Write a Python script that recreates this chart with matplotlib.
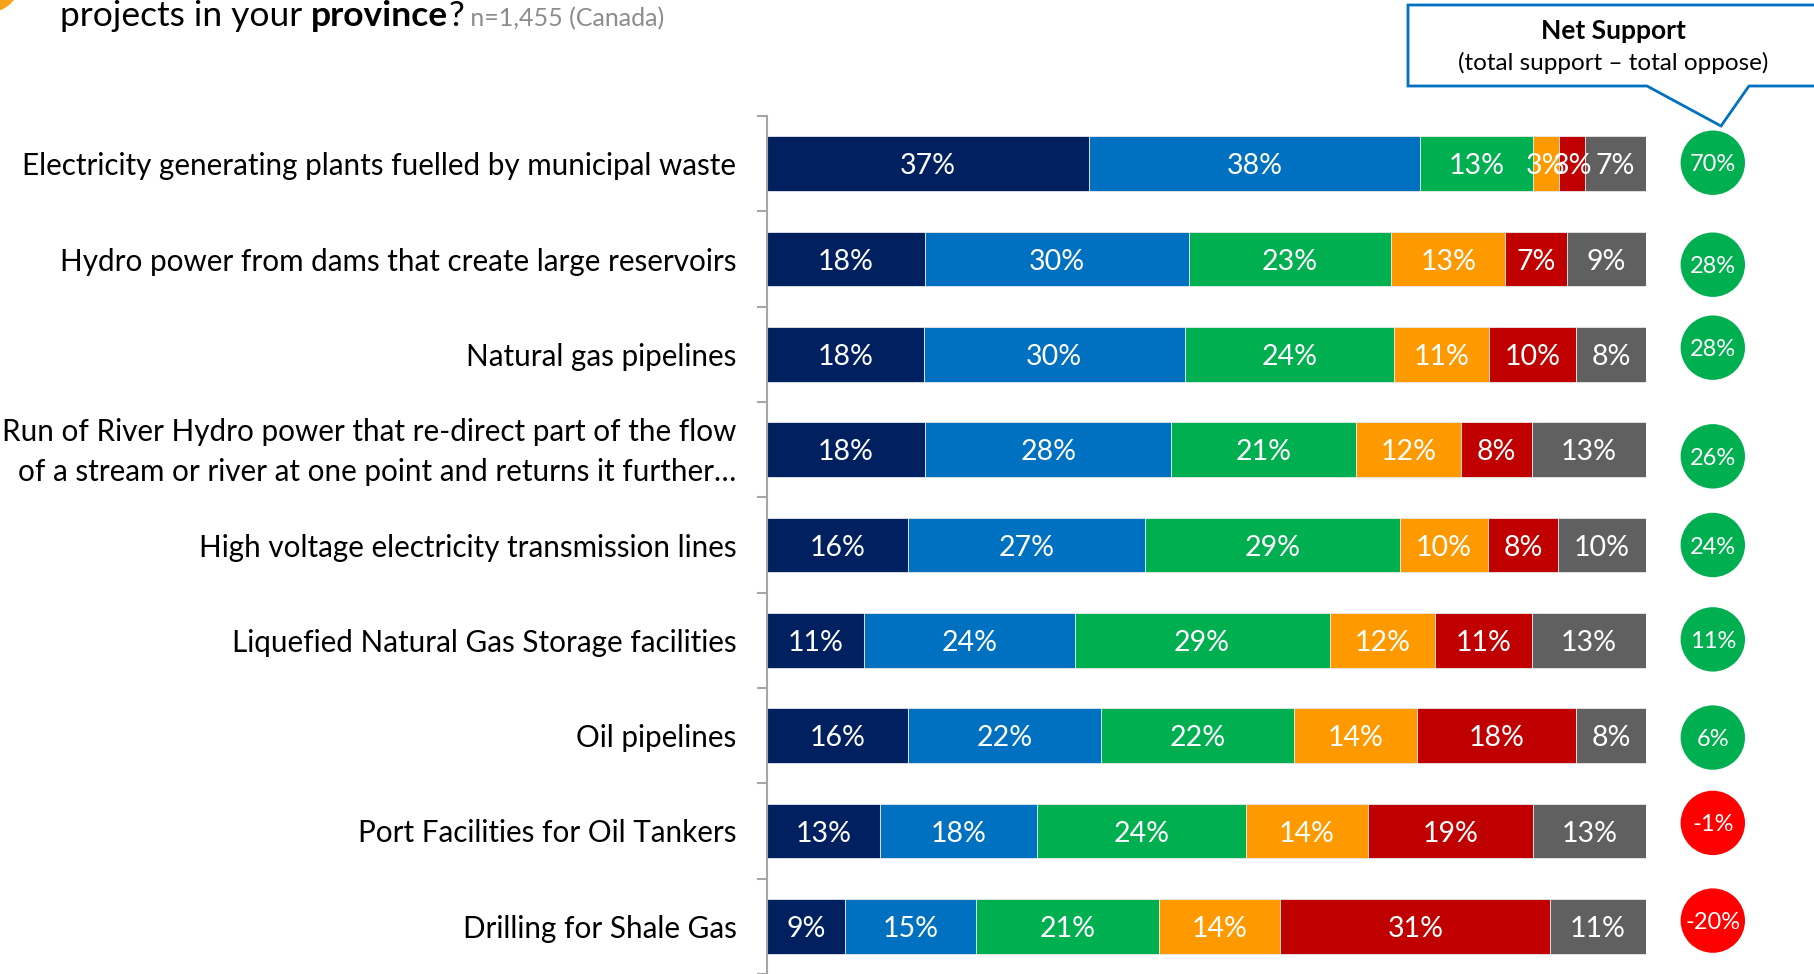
import numpy as np
import matplotlib.pyplot as plt
from matplotlib.patches import Polygon, Circle
from matplotlib.transforms import ScaledTranslation

plt.rcParams['font.family'] = ['Lato', 'DejaVu Sans']

# daten
kategorien = [
    "Electricity generating plants fuelled by municipal waste",
    "Hydro power from dams that create large reservoirs",
    "Natural gas pipelines",
    "Run of River Hydro power that re-direct part of the flow\nof a stream or river at one point and returns it further\u2026",
    "High voltage electricity transmission lines",
    "Liquefied Natural Gas Storage facilities",
    "Oil pipelines",
    "Port Facilities for Oil Tankers",
    "Drilling for Shale Gas",
]
strongly_support = [37, 18, 18, 18, 16, 11, 16, 13, 9]
somewhat_support = [38, 30, 30, 28, 27, 24, 22, 18, 15]
neutral = [13, 23, 24, 21, 29, 29, 22, 24, 21]
somewhat_oppose = [3, 13, 11, 12, 10, 12, 14, 14, 14]
strongly_oppose = [3, 7, 10, 8, 8, 11, 18, 19, 31]
dont_know = [7, 9, 8, 13, 10, 13, 8, 13, 11]
net_support = [70, 28, 28, 26, 24, 11, 6, -1, -20]
kreis_versatz = [-0.01, 0.06, -0.07, 0.07, 0.0, -0.01, 0.02, -0.085, -0.06]

serien = [strongly_support, somewhat_support, neutral, somewhat_oppose, strongly_oppose, dont_know]
farben = ['#002060', '#0070C0', '#00B050', '#FF9900', '#C00000', '#606060']

W, H = 1815, 974
fig = plt.figure(figsize=(W / 100, H / 100), dpi=100)

# hauptachse in pixeln positioniert
ax = fig.add_axes([767 / W, 0, 879 / W, (H - 116) / H])
n = len(kategorien)
y = np.arange(n)
werte = np.array(serien, dtype=float)
# jede zeile auf 100 normieren, damit alle balken gleich lang sind
anteile = werte / werte.sum(axis=0) * 100

links = np.zeros(n)
for k in range(len(serien)):
    ax.barh(y, anteile[k], left=links, height=0.575, color=farben[k],
            edgecolor='#E8E8E8', linewidth=0.6)
    for i in range(n):
        ax.text(links[i] + anteile[k][i] / 2, y[i], f"{serien[k][i]}%",
                ha='center', va='center_baseline', color='white', fontsize=20.5)
    links += anteile[k]

ax.set_xlim(0, 100)
ax.set_ylim(n - 0.5, -0.5)
ax.set_yticks(y)
ax.set_yticklabels(kategorien, fontsize=21.3, ha='right', linespacing=1.5)
ax.tick_params(axis='y', which='major', length=0, pad=22)
ax.set_yticks(np.arange(-0.5, n, 1), minor=True)
ax.tick_params(axis='y', which='minor', length=7, color='#A6A6A6', width=1.5, direction='out')
ax.set_xticks([])
for s in ['top', 'right', 'bottom']:
    ax.spines[s].set_visible(False)
ax.spines['left'].set_color('#A6A6A6')
ax.spines['left'].set_linewidth(1.5)

# zweizeiliges label etwas nach oben schieben
lbl = ax.get_yticklabels()[3]
lbl.set_transform(lbl.get_transform() + ScaledTranslation(0, 0.06, fig.dpi_scale_trans))

# net support kreise
kreis_farben = ['#00B050' if v >= 0 else '#FF0000' for v in net_support]
ky = y + np.array(kreis_versatz)
ax.scatter(np.full(n, 107.6), ky, s=2150, c=kreis_farben, clip_on=False, linewidths=0)
for i in range(n):
    ax.text(107.6, ky[i], f"{net_support[i]}%", ha='center', va='center_baseline',
            color='white', fontsize=17)

# overlay fuer titel und callout (pixelkoordinaten)
ov = fig.add_axes([0, 0, 1, 1], zorder=-1)
ov.set_xlim(0, W)
ov.set_ylim(H, 0)
ov.axis('off')
ov.patch.set_alpha(0)

ov.add_patch(Circle((-12, -20), 32, color='#F7A21B', clip_on=False))

fig.canvas.draw()
r = fig.canvas.get_renderer()
x0 = 60
teile = [("projects in your ", 'normal', 'black', 25.5),
         ("province", 'bold', 'black', 25.5),
         ("?", 'normal', 'black', 25.5),
         (" n=1,455 (Canada)", 'normal', '#8C8C8C', 18)]
for txt, gew, col, fs in teile:
    t = ov.text(x0, 26, txt, fontsize=fs, fontweight=gew, color=col, va='baseline', ha='left')
    bb = t.get_window_extent(renderer=r)
    x0 += bb.width

callout = [(1408, 5), (1830, 5), (1830, 86), (1749, 86), (1721, 126),
           (1647, 86), (1408, 86)]
ov.add_patch(Polygon(callout, closed=True, facecolor='white', edgecolor='#0070C0',
                     linewidth=2, clip_on=False))
ov.text(1613, 31, "Net Support", ha='center', va='center', fontsize=19, fontweight='bold')
ov.text(1613, 63, "(total support \u2013 total oppose)", ha='center', va='center', fontsize=17.5)

fig.savefig('out.png', dpi=100)
